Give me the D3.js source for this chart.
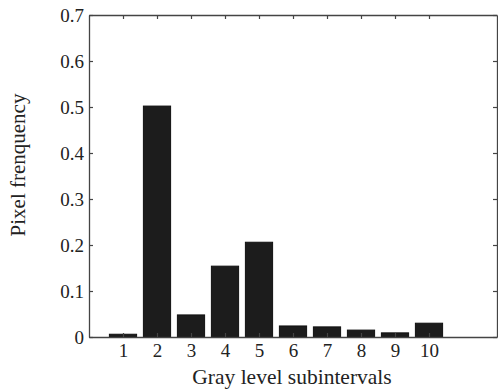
<!DOCTYPE html>
<html><head><meta charset="utf-8">
<script src="https://cdn.jsdelivr.net/npm/d3@7"></script>
<style>body{margin:0;background:#fff}svg{display:block}text{font-family:"Liberation Serif","Times New Roman",serif;fill:#222}</style>
</head><body><svg id="c" width="498" height="389"></svg>
<script>
const categories = [1,2,3,4,5,6,7,8,9,10];
const values = [0.006,0.502,0.048,0.154,0.206,0.024,0.022,0.015,0.009,0.030];
const yTicks = [0,0.1,0.2,0.3,0.4,0.5,0.6,0.7];
const yTickLabels = ["0","0.1","0.2","0.3","0.4","0.5","0.6","0.7"];
const xLabel = "Gray level subintervals";
const yLabel = "Pixel frenquency";

const svg = d3.select("#c");
const L = 89, R = 497, T = 15, B = 337;
const x = d3.scaleLinear().domain([0,12]).range([L,R]);
const y = d3.scaleLinear().domain([0,0.7]).range([B,T]);
const bw = x(0.8) - x(0);
const axisColor = "#444";

// bars
svg.selectAll("rect.bar").data(categories).enter().append("rect")
  .attr("class","bar")
  .attr("x", (d)=>x(d)-bw/2)
  .attr("y", (d,i)=>y(values[i]))
  .attr("width", bw)
  .attr("height", (d,i)=>y(0)-y(values[i]))
  .attr("fill","#1c1c1c").attr("stroke","#111").attr("stroke-width",1);

const tk = 4;
// axes
const gL = svg.append("g").attr("transform",`translate(${L},0)`)
  .call(d3.axisLeft(y).tickValues(yTicks).tickFormat((d,i)=>yTickLabels[i]).tickSizeInner(-tk).tickSizeOuter(0).tickPadding(5));
const gR = svg.append("g").attr("transform",`translate(${R},0)`)
  .call(d3.axisRight(y).tickValues(yTicks).tickFormat("").tickSizeInner(-tk).tickSizeOuter(0));
const gB = svg.append("g").attr("transform",`translate(0,${B})`)
  .call(d3.axisBottom(x).tickValues(categories).tickSizeInner(-tk).tickSizeOuter(0).tickPadding(7));
const gT = svg.append("g").attr("transform",`translate(0,${T})`)
  .call(d3.axisTop(x).tickValues(categories).tickFormat("").tickSizeInner(-tk).tickSizeOuter(0));
[gL,gR,gB,gT].forEach(g=>{
  g.selectAll("path.domain").attr("stroke",axisColor).attr("stroke-width",1.3);
  g.selectAll(".tick line").attr("stroke",axisColor).attr("stroke-width",1.2);
  g.selectAll("text").attr("font-family","Liberation Serif, serif").attr("font-size",19).attr("fill","#222");
});

svg.append("text").attr("x",292).attr("y",384).attr("text-anchor","middle").attr("font-size",21.5).text(xLabel);
svg.append("text").attr("transform","translate(25,165) rotate(-90)").attr("text-anchor","middle").attr("font-size",21).text(yLabel);
</script></body></html>
